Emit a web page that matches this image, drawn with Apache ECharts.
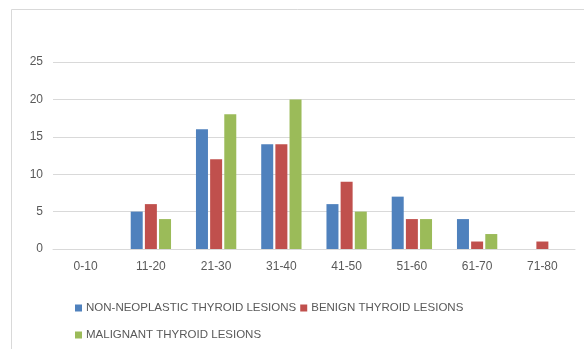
<!DOCTYPE html>
<html>
<head>
<meta charset="utf-8">
<script src="https://cdn.jsdelivr.net/npm/echarts@6/dist/echarts.min.js"></script>
<style>
  html, body { margin: 0; padding: 0; background: #fff; }
  #chart { width: 584px; height: 349px; }
</style>
</head>
<body>
<div id="chart"></div>
<script>
// Age groups (years) and number of cases per lesion type
const ageGroups = ['0-10', '11-20', '21-30', '31-40', '41-50', '51-60', '61-70', '71-80'];
const nonNeoplastic = [0, 5, 16, 14, 6, 7, 4, 0];
const benign = [0, 6, 12, 14, 9, 4, 1, 1];
const malignant = [0, 4, 18, 20, 5, 4, 2, 0];
const seriesNames = ['NON-NEOPLASTIC THYROID LESIONS', 'BENIGN THYROID LESIONS', 'MALIGNANT THYROID LESIONS'];
const yTicks = { min: 0, max: 25, interval: 5 };

const font = 'Liberation Sans, Arial, sans-serif';
const textColor = '#595959';

const chart = echarts.init(document.getElementById('chart'));

function barSeries(name, data, color) {
  return {
    name: name,
    type: 'bar',
    data: data,
    barWidth: 12,
    barGap: '18%',
    itemStyle: { color: color },
    emphasis: { disabled: true }
  };
}

const legendText = { color: textColor, fontSize: 11.5, padding: [0, 0, 0, -1], fontFamily: font };

chart.setOption({
  animation: false,
  backgroundColor: '#ffffff',
  textStyle: { fontFamily: font },
  graphic: [
    { type: 'line', shape: { x1: 11.5, y1: 9.5, x2: 584, y2: 9.5 }, style: { stroke: '#d9d9d9', lineWidth: 1 } },
    { type: 'line', shape: { x1: 11.5, y1: 9.5, x2: 11.5, y2: 349 }, style: { stroke: '#d9d9d9', lineWidth: 1 } }
  ],
  grid: { left: 53, right: 9, top: 62, bottom: 100, containLabel: false },
  xAxis: {
    type: 'category',
    data: ageGroups,
    axisLine: { show: true, lineStyle: { color: '#d9d9d9' } },
    axisTick: { show: false },
    axisLabel: { color: textColor, fontSize: 12, margin: 12, fontFamily: font }
  },
  yAxis: {
    type: 'value',
    min: yTicks.min,
    max: yTicks.max,
    interval: yTicks.interval,
    axisLine: { show: false },
    axisTick: { show: false },
    splitLine: { lineStyle: { color: '#d9d9d9' } },
    axisLabel: { color: textColor, fontSize: 12, margin: 10, fontFamily: font }
  },
  legend: [
    {
      data: [seriesNames[0], seriesNames[1]],
      left: 75, top: 302,
      icon: 'rect', itemWidth: 7, itemHeight: 7, itemGap: 4,
      padding: 0,
      textStyle: legendText,
      selectedMode: false
    },
    {
      data: [seriesNames[2]],
      left: 75, top: 329,
      icon: 'rect', itemWidth: 7, itemHeight: 7, itemGap: 4,
      padding: 0,
      textStyle: legendText,
      selectedMode: false
    }
  ],
  series: [
    barSeries(seriesNames[0], nonNeoplastic, '#4f81bd'),
    barSeries(seriesNames[1], benign, '#c0504d'),
    barSeries(seriesNames[2], malignant, '#9bbb59')
  ]
});
</script>
</body>
</html>
